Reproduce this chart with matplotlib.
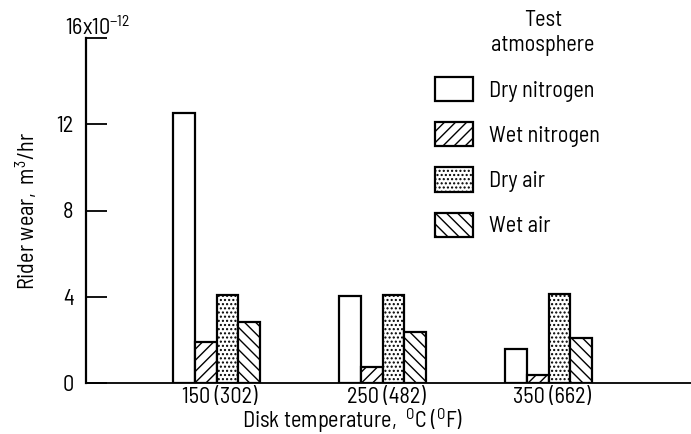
import numpy as np
import matplotlib
matplotlib.use('Agg')
import matplotlib.pyplot as plt
from matplotlib.patches import Patch

plt.rcParams['font.family'] = ['Barlow Semi Condensed', 'DejaVu Sans']
plt.rcParams['mathtext.fontset'] = 'custom'
plt.rcParams['mathtext.rm'] = 'Barlow Semi Condensed'
plt.rcParams['hatch.linewidth'] = 1.0

# data
temps = ['150 (302)', '250 (482)', '350 (662)']
atmospheres = ['Dry nitrogen', 'Wet nitrogen', 'Dry air', 'Wet air']
dry_nitrogen = [12.5, 4.05, 1.6]
wet_nitrogen = [1.9, 0.75, 0.35]
dry_air = [4.1, 4.1, 4.15]
wet_air = [2.85, 2.35, 2.1]
yticks = [0, 4, 8, 12, 16]
ytick_labels = ['0', '4', '8', '12', '']

series = [dry_nitrogen, wet_nitrogen, dry_air, wet_air]
hatches = ['', '///', '....', '\\\\\\']
fs = 16

fig = plt.figure(figsize=(6.91, 4.34), dpi=100)
ax = fig.add_axes([86/691, 1 - 383/434, 605/691, 345/434])

x = np.arange(len(temps))
w = 0.13
for i, vals in enumerate(series):
    ax.bar(x + (i - 1.5) * w, vals, w, facecolor='white', edgecolor='black',
           hatch=hatches[i], linewidth=1.6, zorder=3)

ax.set_xlim(-0.787, 2.858)
ax.set_ylim(0, 16)
ax.spines['top'].set_visible(False)
ax.spines['right'].set_visible(False)
ax.spines['left'].set_linewidth(1.6)
ax.spines['bottom'].set_linewidth(1.3)

ax.set_yticks(yticks)
ax.set_yticklabels(ytick_labels)
ax.tick_params(axis='y', direction='in', length=15, width=1.3, pad=9, labelsize=fs)
ax.set_xticks(x + 0.02)
ax.set_xticklabels(temps)
ax.tick_params(axis='x', length=0, pad=3, labelsize=fs)

ax.annotate('16x10$^{-12}$', xy=(-0.035, 16), xycoords=ax.get_yaxis_transform(),
            xytext=(0, 7), textcoords='offset points', ha='left', va='center',
            fontsize=fs)

ax.set_ylabel('Rider wear,  m$^3$/hr', fontsize=fs, labelpad=12)
ax.set_xlabel('Disk temperature,  $^{\\mathrm{O}}$C ($^{\\mathrm{O}}$F)', fontsize=fs)
ax.xaxis.set_label_coords(0.441, -0.069)

fig.text(543/691, 1 - 20/434, 'Test', ha='center', va='center', fontsize=fs)
fig.text(543/691, 1 - 45/434, 'atmosphere', ha='center', va='center', fontsize=fs)

handles = [Patch(facecolor='white', edgecolor='black', hatch=h, linewidth=1.6)
           for h in hatches]
ax.legend(handles, atmospheres, loc='upper left', bbox_to_anchor=(435/691, 1 - 77/434),
          bbox_transform=fig.transFigure, frameon=False, fontsize=fs,
          handlelength=1.7, handleheight=1.3, labelspacing=0.93,
          handletextpad=0.75, borderpad=0, borderaxespad=0)

fig.savefig('out.png', dpi=100)
